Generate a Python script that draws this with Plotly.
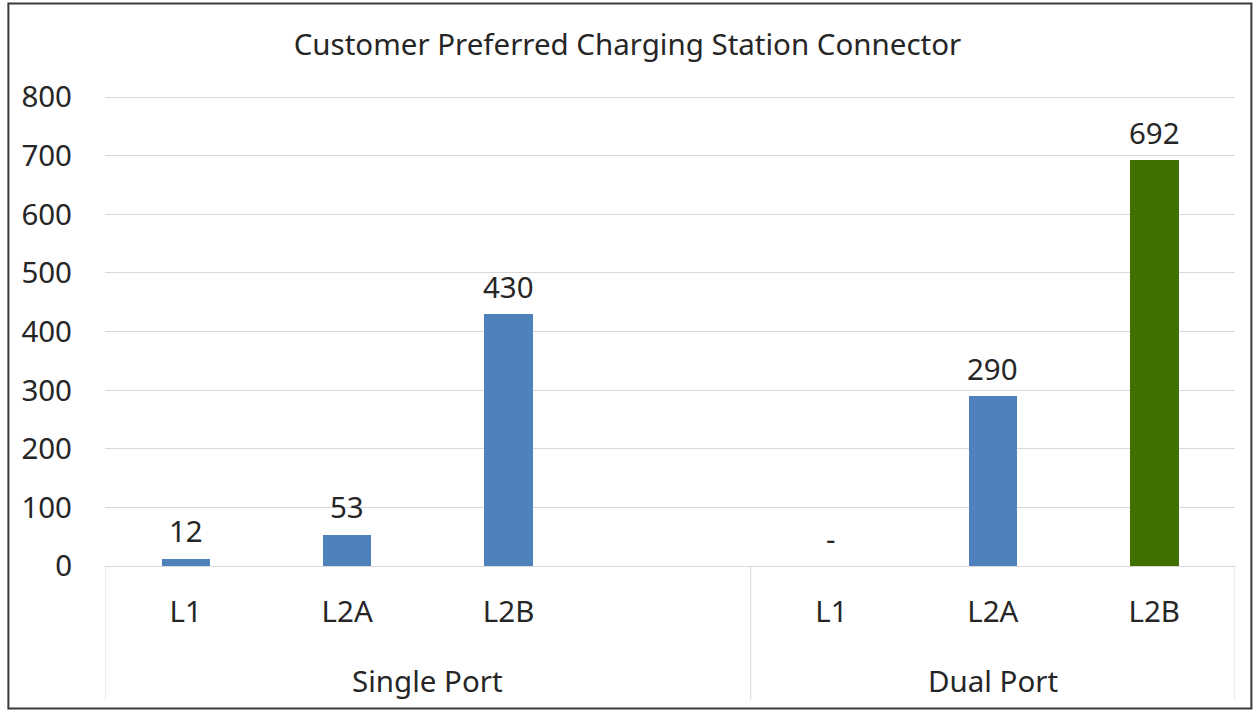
import plotly.graph_objects as go

# ---- data ----
title_text = "Customer Preferred Charging Station Connector"
groups = ["Single Port", "Dual Port"]
connectors = ["L1", "L2A", "L2B"]
single_port = [12, 53, 430]
dual_port = [0, 290, 692]
highlight = ("Dual Port", "L2B")
y_ticks = [0, 100, 200, 300, 400, 500, 600, 700, 800]

BLUE = "#4F81BD"
GREEN = "#3F7000"
GRID = "#D9D9D9"
TXT = "#262626"
FONT = "Noto Sans"
FS = 29.5

# Single Port occupies 4 slots (last one blank), Dual Port 3 slots
group_slots = [4, 3]
group_values = [single_port, dual_port]

xs, ys, texts, colors, tickvals, ticktext = [], [], [], [], [], []
group_starts = []
start = 0
for g, vals, nslot in zip(groups, group_values, group_slots):
    group_starts.append(start)
    for i, (c, v) in enumerate(zip(connectors, vals)):
        pos = start + i
        xs.append(pos)
        ys.append(v)
        texts.append("-" if v == 0 else str(v))
        colors.append(GREEN if (g, c) == highlight else BLUE)
        tickvals.append(pos)
        ticktext.append(c)
    start += nslot
total_slots = start

fig = go.Figure()
fig.add_trace(go.Bar(
    x=xs, y=ys,
    marker=dict(color=colors, line=dict(width=0)),
    width=0.30, showlegend=False,
))

lo, hi = -0.5, total_slots - 0.5
bottom = -0.286
shapes = []
bounds = [lo] + [gs + n - 0.5 for gs, n in zip(group_starts, group_slots)]
for b in bounds:
    shapes.append(dict(type="line", xref="x", yref="paper", x0=b, x1=b, y0=0, y1=bottom,
                       line=dict(color=GRID, width=1)))
shapes.append(dict(type="rect", xref="paper", yref="paper",
                   x0=-0.0855, x1=1.0145, y0=-0.303, y1=1.197,
                   line=dict(color="#3A3A3A", width=2), layer="above"))

annotations = []
# data labels
for x, y, t in zip(xs, ys, texts):
    annotations.append(dict(x=x, y=y, xref="x", yref="y", text=t, showarrow=False,
                            yanchor="middle", yshift=28,
                            font=dict(size=FS, color=TXT, family=FONT)))
# group labels
for g, gs, n in zip(groups, group_starts, group_slots):
    annotations.append(dict(x=gs + (n - 1) / 2, y=-0.243, xref="x", yref="paper",
                            text=g, showarrow=False, yanchor="middle",
                            font=dict(size=FS, color=TXT, family=FONT)))

fig.update_layout(
    width=1255, height=711,
    margin=dict(l=105, r=20, t=96, b=145),
    paper_bgcolor="white", plot_bgcolor="white",
    title=dict(text=title_text, x=0.5, xref="container", xanchor="center",
               y=0.937, yref="container", yanchor="middle",
               font=dict(size=FS, color=TXT, family=FONT)),
    xaxis=dict(range=[lo, hi], tickvals=tickvals, ticktext=ticktext,
               showgrid=False, zeroline=False, showline=True, linecolor=GRID, linewidth=1,
               ticks="", ticklabelstandoff=20,
               tickfont=dict(size=FS, color=TXT, family=FONT)),
    yaxis=dict(range=[0, 802], tickvals=y_ticks, showgrid=True, gridcolor=GRID, gridwidth=1,
               zeroline=False, showline=False, ticks="", ticklabelstandoff=32,
               tickfont=dict(size=FS, color=TXT, family=FONT)),
    shapes=shapes, annotations=annotations,
    bargap=0,
)

fig.write_html("out.html", config={"displayModeBar": False},
               post_script="document.body.style.margin='0';document.body.style.overflow='hidden';")
